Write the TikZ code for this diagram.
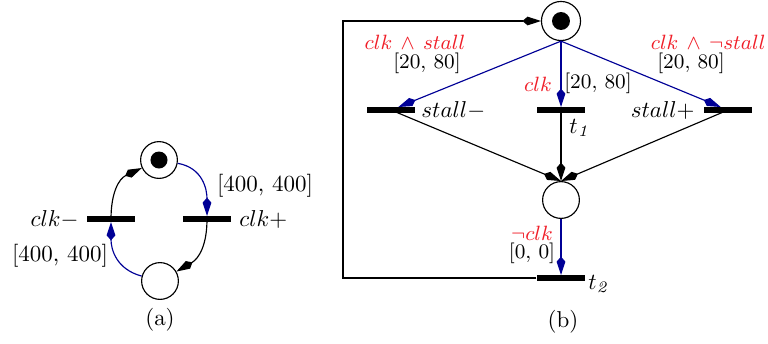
\documentclass[tikz,border=0pt]{standalone}
\usetikzlibrary{arrows.meta}
\definecolor{lblred}{RGB}{240,30,40}
\definecolor{arcblue}{RGB}{0,0,150}
\begin{document}
\begin{tikzpicture}[x=0.435pt,y=-0.435pt,
  place/.style={circle,draw,line width=0.5pt,minimum size=16pt,inner sep=0pt},
  token/.style={circle,fill=black,minimum size=7.4pt,inner sep=0pt},
  trans/.style={rectangle,fill=black,minimum width=21pt,minimum height=2.2pt,inner sep=0pt},
  arc/.style={line width=0.5pt,-{Kite[length=8pt,width=3.8pt,inset=2.2pt]}},
  barc/.style={arc,arcblue},
  guard/.style={text=lblred,font=\small},
  delay/.style={font=\small},
  lbl/.style={inner sep=0pt}]
\useasboundingbox (0,0) rectangle (768,343);
% ---------- (a)
\node[place] (p1) at (159,160) {};
\node[token] (k1) at (p1.center) {};
\node[place] (p2) at (160,281) {};
\node[trans] (tl) at (111,219) {};
\node[trans] (tr) at (207,219) {};
\node[lbl,anchor=east] (ltl) at (79,219) {$clk-$};
\node[lbl,anchor=west] (ltr) at (239,219) {$clk+$};
\node[lbl] (d1) at (265,186) {[400, 400]};
\node[lbl] (d2) at (60,256) {[400, 400]};
\node[lbl] (ca) at (160,320) {(a)};
\draw[arc] (tl.center) to[out=90,in=205,looseness=1.1] (p1);
\draw[barc] (p1) to[out=-10,in=90,looseness=1.1] (tr);
\draw[arc] (tr.center) to[out=-90,in=30,looseness=1.1] (p2);
\draw[barc] (p2) to[out=165,in=-90,looseness=1.1] (tl);
% ---------- (b)
\node[place,minimum size=17pt] (p3) at (561,21) {};
\node[token,minimum size=7.8pt] (k3) at (p3.center) {};
\node[place] (p4) at (561,200) {};
\node[trans] (ts1) at (391,110) {};
\node[trans] (tt1) at (561,110) {};
\node[trans] (ts2) at (728,110) {};
\node[trans] (tt2) at (561,278) {};
\node[lbl,anchor=west] (lts1) at (421,110) {$stall-$};
\node[lbl,anchor=east] (lts2) at (695,110) {$stall+$};
\node[lbl,anchor=west] (ltt1) at (569,128) {$t_{\mathit{1}}$};
\node[lbl,anchor=west] (ltt2) at (588,284) {$t_{\mathit{2}}$};
\node[lbl,guard] (g1) at (415,42) {$clk\,\wedge\, stall$};
\node[lbl,delay] (e1) at (427,63) {[20, 80]};
\node[lbl,guard] (g2) at (538,84) {$clk$};
\node[lbl,delay] (e2) at (598,83) {[20, 80]};
\node[lbl,guard,anchor=east] (g3) at (766,42) {$clk\,\wedge\,\neg stall$};
\node[lbl,delay] (e3) at (691,63) {[20, 80]};
\node[lbl,guard] (g4) at (532,233) {$\neg clk$};
\node[lbl,delay] (e4) at (532,253) {[0, 0]};
\node[lbl] (cb) at (563,322) {(b)};
\coordinate (fb) at (343,278);
\draw[barc] (p3.south) -- (ts1);
\draw[barc] (p3.south) -- (tt1);
\draw[barc] (p3.south) -- (ts2);
\draw[arc] (ts1.center) -- (p4.north);
\draw[arc] (tt1.center) -- (p4.north);
\draw[arc] (ts2.center) -- (p4.north);
\draw[barc] (p4) -- (tt2);
\draw[arc] (tt2.west) -- (fb) |- (p3.west);
% redraw bars on top
\foreach \t in {tl,tr,ts1,tt1,ts2,tt2} \node[trans] at (\t.center) {};
\end{tikzpicture}
\end{document}
